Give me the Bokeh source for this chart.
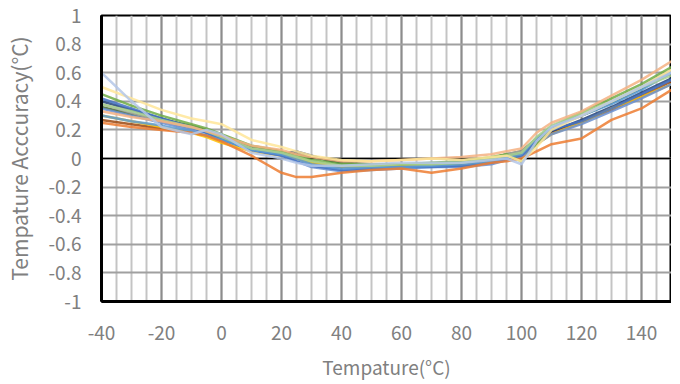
from bokeh.plotting import figure
from bokeh.embed import file_html
from bokeh.resources import INLINE
from bokeh.models import SingleIntervalTicker, FixedTicker, CustomJSTickFormatter, Span, Range1d

temps = [-40, -30, -20, -10, -5, 0, 10, 20, 25, 30, 40, 50, 60, 70, 80, 90, 95, 100, 105, 110, 120, 130, 140, 150]

s_orange = [0.25, 0.22, 0.20, 0.18, 0.16, 0.12, 0.02, -0.10, -0.13, -0.13, -0.10, -0.08, -0.07, -0.10, -0.07, -0.03, -0.02, 0.00, 0.05, 0.10, 0.14, 0.27, 0.35, 0.48]
s_blue = [0.42, 0.35, 0.28, 0.22, 0.18, 0.14, 0.06, 0.02, -0.02, -0.05, -0.08, -0.07, -0.06, -0.06, -0.05, -0.03, 0.00, 0.02, 0.12, 0.20, 0.26, 0.35, 0.45, 0.55]
s_gray = [0.38, 0.32, 0.26, 0.21, 0.19, 0.15, 0.07, 0.04, 0.02, -0.02, -0.05, -0.05, -0.04, -0.04, -0.03, 0.00, 0.03, 0.05, 0.13, 0.21, 0.30, 0.40, 0.50, 0.62]
s_yellow = [0.30, 0.26, 0.22, 0.18, 0.15, 0.11, 0.05, 0.02, 0.00, -0.03, -0.06, -0.06, -0.05, -0.05, -0.05, -0.02, 0.00, 0.02, 0.10, 0.17, 0.25, 0.35, 0.43, 0.52]
s_lightblue = [0.30, 0.26, 0.23, 0.19, 0.16, 0.13, 0.06, 0.03, 0.00, -0.04, -0.07, -0.06, -0.06, -0.05, -0.04, -0.02, 0.01, 0.03, 0.14, 0.22, 0.30, 0.38, 0.48, 0.60]
s_green = [0.45, 0.37, 0.30, 0.24, 0.21, 0.17, 0.09, 0.05, 0.02, -0.01, -0.04, -0.04, -0.04, -0.03, -0.02, 0.01, 0.03, -0.02, 0.10, 0.22, 0.32, 0.42, 0.52, 0.64]
s_darkblue = [0.40, 0.34, 0.28, 0.22, 0.19, 0.15, 0.07, 0.03, 0.05, 0.02, -0.04, -0.05, -0.05, -0.04, -0.04, -0.01, 0.02, 0.04, 0.12, 0.19, 0.27, 0.36, 0.46, 0.56]
s_brown = [0.27, 0.24, 0.21, 0.18, 0.16, 0.13, 0.06, 0.03, 0.00, -0.03, -0.06, -0.06, -0.05, -0.05, -0.05, -0.02, 0.01, 0.02, 0.10, 0.18, 0.26, 0.34, 0.44, 0.54]
s_peach = [0.33, 0.29, 0.26, 0.22, 0.19, 0.16, 0.09, 0.06, 0.03, 0.01, -0.02, -0.02, -0.01, 0.00, 0.01, 0.03, 0.05, 0.07, 0.18, 0.25, 0.33, 0.44, 0.55, 0.68]
s_cream = [0.50, 0.42, 0.34, 0.28, 0.26, 0.24, 0.13, 0.08, 0.05, 0.02, -0.01, -0.02, -0.01, 0.00, -0.01, 0.01, 0.02, -0.02, 0.08, 0.20, 0.30, 0.40, 0.50, 0.62]
s_paleblue = [0.60, 0.40, 0.22, 0.17, 0.20, 0.17, 0.04, 0.00, -0.03, -0.05, -0.05, -0.04, -0.03, -0.03, -0.03, -0.01, 0.00, -0.04, 0.12, 0.22, 0.30, 0.40, 0.50, 0.60]
s_palegreen = [0.38, 0.33, 0.27, 0.22, 0.19, 0.15, 0.07, 0.04, 0.01, -0.02, -0.05, -0.05, -0.04, -0.04, -0.03, 0.00, 0.02, 0.04, 0.15, 0.23, 0.32, 0.40, 0.50, 0.58]
s_midblue = [0.35, 0.30, 0.25, 0.20, 0.18, 0.14, 0.06, 0.02, -0.02, -0.06, -0.09, -0.08, -0.07, -0.06, -0.06, -0.04, -0.01, 0.01, 0.10, 0.17, 0.24, 0.33, 0.42, 0.52]
s_olive = [0.36, 0.31, 0.27, 0.23, 0.20, 0.16, 0.08, 0.04, 0.03, 0.01, -0.03, -0.04, -0.04, -0.04, -0.03, 0.00, 0.03, 0.05, 0.14, 0.22, 0.30, 0.39, 0.49, 0.60]

series = [
    (s_brown, "#9E480E"),
    (s_darkblue, "#264478"),
    (s_olive, "#43682B"),
    (s_gray, "#A5A5A5"),
    (s_yellow, "#FFC000"),
    (s_midblue, "#698ED0"),
    (s_blue, "#4472C4"),
    (s_green, "#70AD47"),
    (s_lightblue, "#5B9BD5"),
    (s_palegreen, "#A9D18E"),
    (s_orange, "#ED7D31"),
    (s_peach, "#F4B183"),
    (s_cream, "#FFE699"),
    (s_paleblue, "#B4C7E7"),
]

x_ticks_interval = 20
y_ticks = [-1, -0.8, -0.6, -0.4, -0.2, 0, 0.2, 0.4, 0.6, 0.8, 1]

p = figure(width=671, height=382, output_backend="svg", toolbar_location=None,
           x_range=Range1d(-40, 150), y_range=Range1d(-1, 1),
           min_border_left=93, min_border_right=0, min_border_top=15, min_border_bottom=80)
p.background_fill_color = "white"
p.border_fill_color = "white"
p.outline_line_color = "black"
p.outline_line_width = 2

xt = SingleIntervalTicker(interval=x_ticks_interval, num_minor_ticks=4)
p.xaxis.ticker = xt
p.xgrid.ticker = xt
p.yaxis.ticker = FixedTicker(ticks=y_ticks)
p.ygrid.ticker = FixedTicker(ticks=y_ticks)
p.yaxis.formatter = CustomJSTickFormatter(code="return String(Math.round(tick*10)/10);")
p.xaxis.formatter = CustomJSTickFormatter(code="return String(Math.round(tick));")

p.xgrid.grid_line_color = "#8c8c8c"
p.xgrid.grid_line_width = 2
p.xgrid.minor_grid_line_color = "#c4c4c4"
p.xgrid.minor_grid_line_width = 2
p.ygrid.grid_line_color = "#a0a0a0"
p.ygrid.grid_line_width = 2

for ax in (p.xaxis, p.yaxis):
    ax.axis_line_color = "black"
    ax.axis_line_width = 3
    ax.major_tick_line_color = None
    ax.minor_tick_line_color = None
    ax.major_label_text_color = "#808080"
    ax.major_label_text_font = "Noto Sans CJK SC"
    ax.major_label_text_font_size = "19px"
    ax.axis_label_text_color = "#808080"
    ax.axis_label_text_font = "Noto Sans CJK SC"
    ax.axis_label_text_font_style = "normal"

p.xaxis.axis_label_text_font_size = "19px"
p.yaxis.axis_label_text_font_size = "21px"
p.xaxis.axis_label = "Tempature(°C)"
p.yaxis.axis_label = "Tempature Acccuracy(°C)"
p.xaxis.major_label_standoff = 18
p.xaxis.axis_label_standoff = 10
p.yaxis.major_label_standoff = 14
p.yaxis.axis_label_standoff = 12

zero = Span(location=0, dimension="width", line_color="black", line_width=1.5, level="underlay")
p.add_layout(zero)

for ys, c in series:
    p.line(temps, ys, line_color=c, line_width=2.5, line_alpha=0.85)

open("out.html", "w").write(file_html(p, INLINE))
